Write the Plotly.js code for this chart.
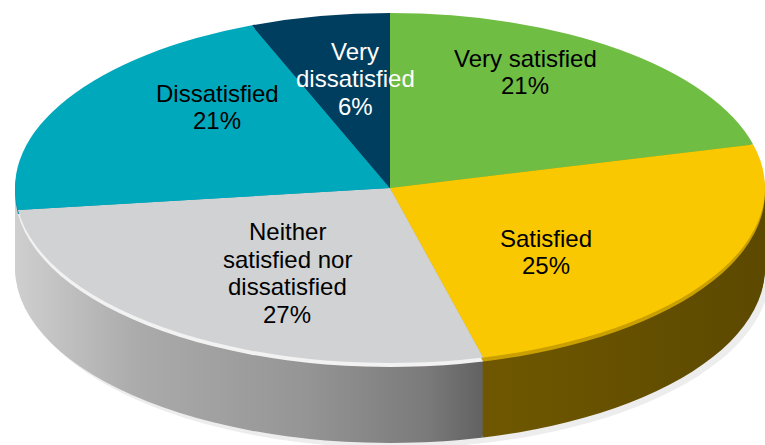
<!DOCTYPE html>
<html>
<head>
<meta charset="utf-8">
<script src="https://cdn.plot.ly/plotly-3.0.1.min.js"></script>
<style>
  html, body { margin: 0; padding: 0; background: #ffffff; overflow: hidden; width: 765px; height: 445px; }
  #chart { width: 800px; height: 1000px; }
</style>
</head>
<body>
<div id="chart"></div>
<script>
// ---- data ----
const categories = ['Very satisfied', 'Satisfied', 'Neither satisfied nor dissatisfied', 'Dissatisfied', 'Very dissatisfied'];
const values = [21, 25, 27, 21, 6];
const labelLines = [
  ['Very satisfied'],
  ['Satisfied'],
  ['Neither', 'satisfied nor', 'dissatisfied'],
  ['Dissatisfied'],
  ['Very', 'dissatisfied']
];

// ---- styles ----
const faceColors  = ['#70BD44', '#F9C800', '#D1D2D3', '#00A8BC', '#003E5F'];
const bevelColors = ['#5FA336', '#C9A000', '#F2F2F2', '#0093A6', '#00314C'];
const sideColors  = ['#4E8A2C', '#6A5400', '#9A9A9A', '#B8B8B8', '#002A40'];
const textColors  = ['#000000', '#000000', '#000000', '#000000', '#ffffff'];
const labelCenters = [[525, 72], [546, 252], [287, 273], [217, 107], [355, 79]];

const W = 800, H = 1000;
const CX = 390, CY = 188, RX = 375, RY = 175, DEPTH = 80;
const S = RY / RX;
const LINE_H = 27.6;

function domainFor(off, dx) {
  dx = dx || 0;
  const yc = (CY + off) / S;
  return {
    x: [(CX - RX + dx) / W, (CX + RX + dx) / W],
    y: [1 - (yc + RX) / H, 1 - (yc - RX) / H]
  };
}

function pieLayer(off, colors, dx) {
  return {
    type: 'pie',
    labels: categories,
    values: values,
    sort: false,
    direction: 'clockwise',
    rotation: 0,
    textinfo: 'none',
    hoverinfo: 'none',
    showlegend: false,
    marker: { colors: colors, line: { width: 0 } },
    domain: domainFor(off, dx)
  };
}

const traces = [];
// soft shadow
traces.push(pieLayer(DEPTH + 5, categories.map(() => '#EDEDED'), 5));
// side layers
const sideIdx = [];
for (let off = DEPTH; off >= 6; off -= 2) {
  sideIdx.push(traces.length);
  traces.push(pieLayer(off, sideColors));
}
// bevel and top face
traces.push(pieLayer(4, bevelColors));
traces.push(pieLayer(0, faceColors));

// labels
const total = values.reduce((a, b) => a + b, 0);
const annotations = [];
categories.forEach((c, i) => {
  const lines = labelLines[i].concat([Math.round(values[i] / total * 100) + '%']);
  const [lx, ly] = labelCenters[i];
  const y0 = ly - (lines.length - 1) * LINE_H / 2;
  lines.forEach((t, j) => {
    annotations.push({
      xref: 'paper', yref: 'paper',
      x: lx / W, y: 1 - (y0 + j * LINE_H) / H,
      xanchor: 'center', yanchor: 'middle',
      text: t, showarrow: false,
      font: { family: 'Liberation Sans, Arial, sans-serif', size: 24, color: textColors[i] }
    });
  });
});

const layout = {
  width: W, height: H,
  margin: { l: 0, r: 0, t: 0, b: 0, pad: 0 },
  paper_bgcolor: '#ffffff',
  plot_bgcolor: '#ffffff',
  showlegend: false,
  annotations: annotations
};

Plotly.newPlot('chart', traces, layout, { staticPlot: true, displayModeBar: false }).then(() => {
  const svg = document.querySelector('#chart .main-svg');
  const ns = 'http://www.w3.org/2000/svg';
  const defs = document.createElementNS(ns, 'defs');
  function grad(id, x1, x2, stops) {
    const g = document.createElementNS(ns, 'linearGradient');
    g.setAttribute('id', id);
    g.setAttribute('gradientUnits', 'userSpaceOnUse');
    g.setAttribute('x1', x1); g.setAttribute('x2', x2);
    g.setAttribute('y1', 0); g.setAttribute('y2', 0);
    stops.forEach(([o, c]) => {
      const s = document.createElementNS(ns, 'stop');
      s.setAttribute('offset', o); s.setAttribute('stop-color', c);
      g.appendChild(s);
    });
    defs.appendChild(g);
  }
  grad('sideGrey', 15, 500, [[0, '#CFCFCF'], [0.25, '#ABABAB'], [0.6, '#959595'], [0.85, '#7A7A7A'], [1, '#5A5A5A']]);
  grad('sideYel', 500, 765, [[0, '#6E5700'], [1, '#5C4900']]);
  svg.insertBefore(defs, svg.firstChild);

  const traceGs = document.querySelectorAll('#chart .pielayer .trace');
  sideIdx.forEach(ti => {
    const g = traceGs[ti];
    if (!g) return;
    const paths = g.querySelectorAll('.slice path.surface');
    if (paths[2]) paths[2].style.fill = 'url(#sideGrey)';
    if (paths[3]) paths[3].style.fill = 'url(#sideGrey)';
    if (paths[1]) paths[1].style.fill = 'url(#sideYel)';
  });
  const pl = document.querySelector('#chart .pielayer');
  pl.setAttribute('transform', 'scale(1,' + S + ')');
});
</script>
</body>
</html>
